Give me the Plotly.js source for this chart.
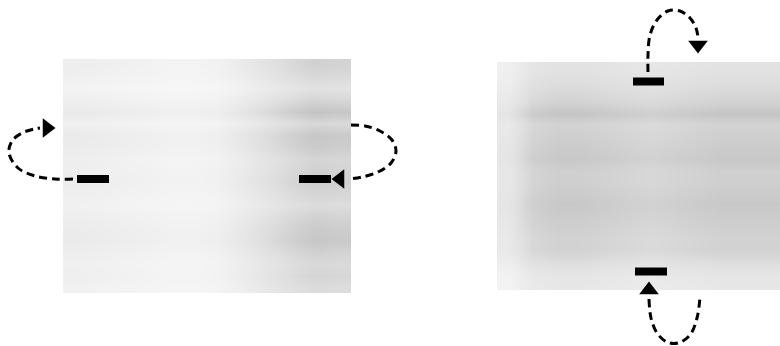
<!DOCTYPE html>
<html>
<head>
<meta charset="utf-8">
<script src="https://cdn.plot.ly/plotly-3.0.1.min.js"></script>
<style>html,body{margin:0;padding:0;background:#fff;}#chart{width:780px;height:346px;}</style>
</head>
<body>
<div id="chart"></div>
<script>
// Left panel (gray band area), pixel-like coordinates
const leftColEdges = [63, 87, 111, 135, 159, 183, 207, 231, 255, 279, 303, 327, 351];
const leftColShade = [0.33, 0.31, 0.28, 0.26, 0.23, 0.23, 0.27, 0.40, 0.55, 0.70, 0.82, 0.78];
const leftRowEdges = [59, 71, 82, 94, 106, 118, 129, 141, 153, 165, 176, 188, 200, 211, 223, 235, 247, 258, 270, 282, 293];
const leftRowShade = [0.80, 0.70, 0.55, 0.75, 1.00, 0.70, 0.95, 0.90, 0.75, 0.80, 0.85, 0.75, 0.65, 0.80, 0.90, 0.95, 0.80, 0.70, 0.75, 0.65];

// Right panel
const rightColEdges = [497, 521, 544, 568, 591, 615, 638, 662, 685, 709, 732, 756, 780];
const rightColShade = [0.42, 0.72, 0.80, 0.80, 0.76, 0.72, 0.68, 0.72, 0.76, 0.80, 0.80, 0.80];
const rightRowEdges = [62, 73, 85, 96, 108, 119, 130, 142, 153, 165, 176, 187, 199, 210, 222, 233, 244, 256, 267, 279, 290];
const rightRowShade = [0.55, 0.60, 0.70, 0.80, 1.00, 0.80, 0.85, 0.90, 0.95, 0.85, 0.85, 0.90, 0.95, 0.90, 0.85, 0.80, 0.80, 0.65, 0.50, 0.45];

// Bands (black bars)
const bandX0 = [77, 299, 633, 635];
const bandX1 = [109, 331, 664, 667];
const bandY = [179, 179, 81.5, 271.5];

// Dashed loops
const loopLeftX = [73, 55, 35, 18, 9, 12, 22, 34, 40];
const loopLeftY = [179, 179, 176, 168, 153, 141, 133, 129, 128];
const loopRightX = [351, 365, 380, 392, 396, 391, 378, 362, 349];
const loopRightY = [125, 126, 131, 140, 151, 163, 172, 177, 179];
const loopTopX = [648, 648, 650, 657, 668, 680, 690, 696, 698];
const loopTopY = [72, 55, 35, 20, 11, 11, 18, 28, 37];
const loopBottomX = [649, 651, 657, 667, 678, 690, 697, 700];
const loopBottomY = [299, 318, 333, 342, 343, 335, 318, 297];

// Arrowheads
const arrowX = [47, 340, 698, 649];
const arrowY = [128, 179, 45, 290];
const arrowAngle = [90, -90, 180, 0];

function grid(rows, cols) {
  return rows.map(r => cols.map(c => r * c));
}

const grayScale = [[0, '#ffffff'], [0.5, '#dedede'], [1, '#b4b4b4']];

const traces = [];
traces.push({
  type: 'heatmap', x: leftColEdges, y: leftRowEdges,
  z: grid(leftRowShade, leftColShade), zmin: 0, zmax: 1,
  colorscale: grayScale, showscale: false, zsmooth: 'best', hoverinfo: 'skip'
});
traces.push({
  type: 'heatmap', x: rightColEdges, y: rightRowEdges,
  z: grid(rightRowShade, rightColShade), zmin: 0, zmax: 1,
  colorscale: grayScale, showscale: false, zsmooth: 'best', hoverinfo: 'skip'
});

const loops = [[loopLeftX, loopLeftY], [loopRightX, loopRightY], [loopTopX, loopTopY], [loopBottomX, loopBottomY]];
loops.forEach(([lx, ly]) => {
  traces.push({
    type: 'scatter', mode: 'lines', x: lx, y: ly,
    line: {color: '#000', width: 3, dash: '8px,5px', shape: 'spline', smoothing: 1},
    hoverinfo: 'skip', showlegend: false
  });
});

for (let i = 0; i < bandX0.length; i++) {
  traces.push({
    type: 'scatter', mode: 'lines', x: [bandX0[i], bandX1[i]], y: [bandY[i], bandY[i]],
    line: {color: '#000', width: 8}, hoverinfo: 'skip', showlegend: false
  });
}

traces.push({
  type: 'scatter', mode: 'markers', x: arrowX, y: arrowY,
  marker: {symbol: 'triangle-up', size: 17, color: '#000', angle: arrowAngle, line: {width: 0}},
  hoverinfo: 'skip', showlegend: false
});

const layout = {
  width: 780, height: 346,
  margin: {l: 0, r: 0, t: 0, b: 0},
  paper_bgcolor: '#fff', plot_bgcolor: '#fff',
  showlegend: false,
  xaxis: {range: [0, 780], visible: false, fixedrange: true},
  yaxis: {range: [346, 0], visible: false, fixedrange: true}
};

Plotly.newPlot('chart', traces, layout, {staticPlot: true, displayModeBar: false});
</script>
</body>
</html>
